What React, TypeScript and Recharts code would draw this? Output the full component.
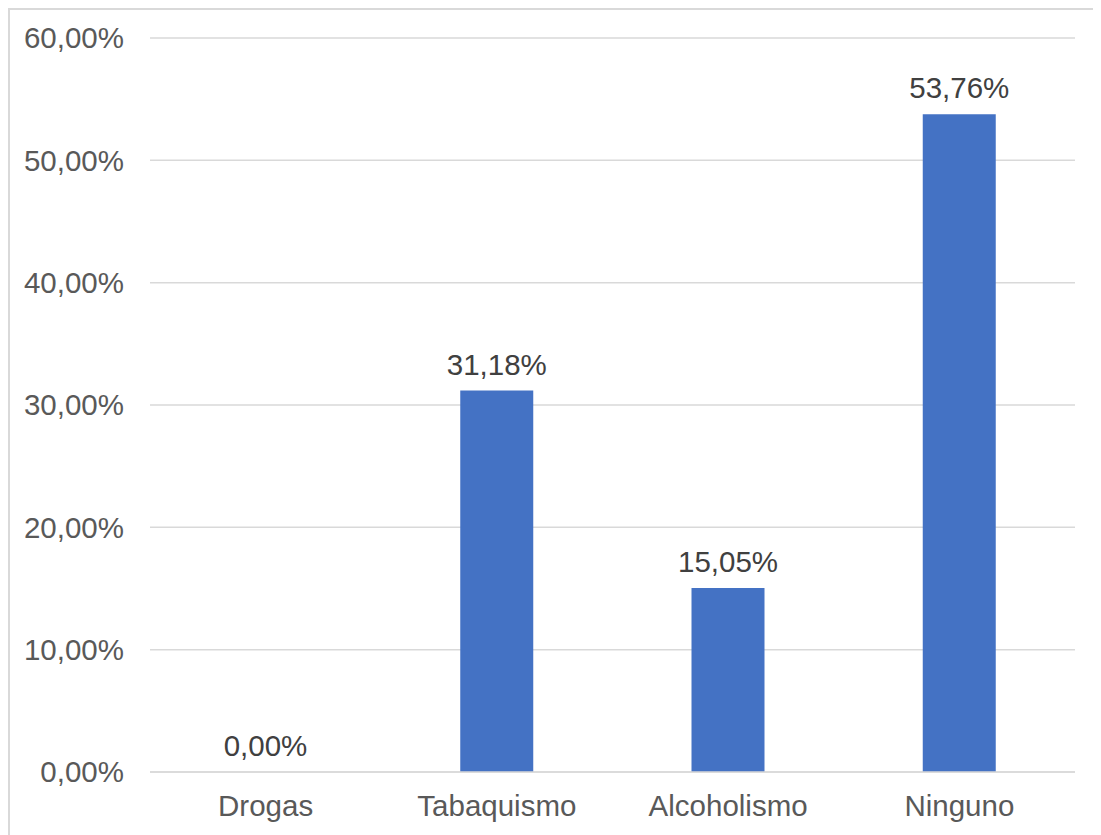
import { BarChart, Bar, XAxis, YAxis, CartesianGrid, LabelList } from 'recharts';

const categories = ['Drogas', 'Tabaquismo', 'Alcoholismo', 'Ninguno'];
const values = [0, 31.18, 15.05, 53.76];
const yTicks = [0, 10, 20, 30, 40, 50, 60];

const data = categories.map((name, i) => ({ name, value: values[i] }));

const fmt = (v: number) => `${Number(v).toFixed(2).replace('.', ',')}%`;

const FONT = '"Liberation Sans", Arial, sans-serif';
const SIZE = 29.5;

export default function App() {
  return (
    <div
      style={{
        width: 1110,
        height: 840,
        border: '2px solid #d9d9d9',
        background: '#fff',
        fontFamily: FONT,
        overflow: 'hidden',
      }}
    >
      <BarChart
        width={1100}
        height={830}
        data={data}
        margin={{ top: 28, right: 35, bottom: 18, left: 10 }}
      >
        <CartesianGrid vertical={false} stroke="#d9d9d9" strokeWidth={1.5} />
        <XAxis
          dataKey="name"
          height={50}
          tickLine={false}
          axisLine={{ stroke: '#d9d9d9', strokeWidth: 1.5 }}
          tickSize={0}
          tickMargin={23}
          tick={{ fill: '#595959', fontSize: SIZE, fontFamily: FONT }}
        />
        <YAxis
          width={130}
          domain={[0, 60]}
          ticks={yTicks}
          tickFormatter={fmt}
          tickLine={false}
          axisLine={false}
          tickSize={0}
          tickMargin={26}
          tick={{ fill: '#595959', fontSize: SIZE, fontFamily: FONT }}
        />
        <Bar
          dataKey="value"
          fill="#4472c4"
          barSize={73}
          minPointSize={(v: number) => (v === 0 ? 0.01 : 0)}
          isAnimationActive={false}
        >
          <LabelList
            dataKey="value"
            position="top"
            offset={16}
            formatter={(v: number) => fmt(v)}
            style={{ fill: '#404040', fontSize: SIZE, fontFamily: FONT }}
          />
        </Bar>
      </BarChart>
    </div>
  );
}
